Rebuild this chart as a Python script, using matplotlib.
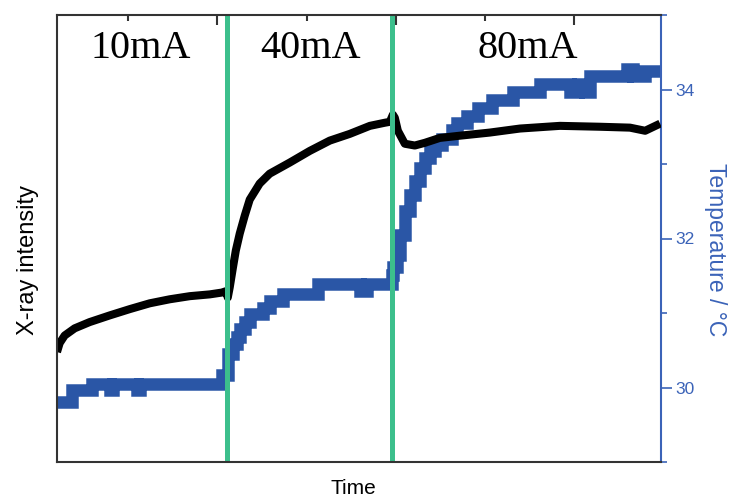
import matplotlib
matplotlib.use("Agg")
import matplotlib.pyplot as plt
from matplotlib.ticker import MultipleLocator

plt.rcParams['font.family'] = ['Liberation Sans', 'DejaVu Sans']

# --- data (time in arbitrary units) ---
t_xray = [10, 11.5, 14.3, 19.9, 28.3, 39.6, 50.8, 62.0, 73.2, 84.5, 95.7, 102.4, 104.7,
          105.8, 106.9, 108.6, 110.3, 112.5, 115.3, 118.1, 123.7, 129.3, 140.6, 151.8,
          163.0, 174.2, 185.5, 193.9, 196.7, 198.4, 199.5, 201.2, 205.1, 210.7, 216.3,
          224.7, 236.0, 252.8, 269.7, 292.1, 314.6, 331.4, 339.9, 348.3]
xray = [24.6, 26.6, 28.3, 29.9, 31.3, 32.8, 34.2, 35.5, 36.4, 37.1, 37.5, 37.9, 38.2,
        36.8, 39.1, 43.3, 47.3, 51.1, 55.1, 58.7, 62.3, 64.5, 67.0, 69.6,
        71.9, 73.4, 75.2, 75.9, 76.1, 77.7, 77.0, 74.1, 71.2, 70.8, 71.4,
        72.5, 73.0, 73.7, 74.6, 75.2, 75.0, 74.8, 74.1, 75.7]

t_temp = [10, 18.2, 29.5, 39.6, 41.3, 54.7, 56.4, 102.4, 105.8,
          108.6, 110.8, 112.5, 115.3, 118.1, 125.4, 129.3, 136.6, 156.3, 179.9, 183.8,
          197.7, 198.6, 200.6, 202.3, 205.1, 207.9, 210.7, 213.5, 216.3, 219.1, 221.9,
          225.8, 231.5, 234.3, 239.9, 246.1, 253.9, 265.7, 280.9, 297.7, 302.2, 306.2,
          309.0, 329.7, 333.1, 339.9, 348.8]
temp = [29.81, 29.97, 30.05, 29.97, 30.05, 29.97, 30.05, 30.17, 30.45,
        30.58, 30.68, 30.78, 30.88, 30.98, 31.07, 31.16, 31.26, 31.39, 31.30, 31.39,
        31.51, 31.62, 31.78, 32.05, 32.37, 32.58, 32.77, 32.94, 33.08, 33.17, 33.25,
        33.34, 33.45, 33.55, 33.65, 33.75, 33.86, 33.97, 34.07, 33.97, 34.07, 33.97,
        34.18, 34.28, 34.18, 34.25, 34.25]

switch_times = [105.5, 197.7]
currents = ["10mA", "40mA", "80mA"]
current_xpos = [0.139, 0.419, 0.78]

blue = "#2a56a6"
axis_blue = "#3b63b8"
green = "#3cbf8c"

fig = plt.figure(figsize=(7.31, 4.97), dpi=100)
ax = fig.add_axes([57/731, 35/497, 604/731, 447/497])
ax2 = ax.twinx()

# temperature (right axis), drawn underneath
ax2.plot(t_temp, temp, drawstyle="steps-post", color=blue, lw=9,
         solid_joinstyle="miter", solid_capstyle="butt")
ax2.set_ylim(29, 35)
ax2.yaxis.set_major_locator(MultipleLocator(2))
ax2.yaxis.set_minor_locator(MultipleLocator(1))
ax2.tick_params(axis="y", which="major", direction="out", length=8, width=1.2,
                colors=axis_blue, labelsize=12.5, pad=2)
ax2.tick_params(axis="y", which="minor", direction="out", length=4, width=1.2,
                colors=axis_blue)
for s in ["left", "top", "bottom"]:
    ax2.spines[s].set_visible(False)
ax2.spines["right"].set_color(axis_blue)
ax2.spines["right"].set_linewidth(1.5)

# x-ray intensity (left axis) + switching lines on top
ax.set_zorder(ax2.get_zorder() + 1)
ax.patch.set_visible(False)
ax.plot(t_xray, xray, color="black", lw=5.8, solid_capstyle="butt")
for ts in switch_times:
    ax.axvline(ts, color=green, lw=3.6)
ax.set_xlim(10, 348.8)
ax.set_ylim(0, 100)
ax.set_yticks([])
ax.xaxis.set_major_locator(MultipleLocator(100))
ax.xaxis.set_minor_locator(MultipleLocator(50))
ax.xaxis.set_ticks_position("top")
ax.tick_params(axis="x", which="major", direction="in", length=7, width=1.5,
               labeltop=False, labelbottom=False, color="#333333")
ax.tick_params(axis="x", which="minor", direction="in", length=4, width=1.5,
               color="#333333")
for s in ["left", "top", "bottom"]:
    ax.spines[s].set_color("#333333")
    ax.spines[s].set_linewidth(1.5)
ax.spines["right"].set_visible(False)

for lab, xp in zip(currents, current_xpos):
    ax.text(xp, 0.925, lab, transform=ax.transAxes, ha="center", va="center",
            fontsize=29, family="Liberation Serif")

fig.text(353/731, 1 - 489/497, "Time", ha="center", va="center", fontsize=15)
fig.text(28/731, 1 - 260/497, "X-ray intensity", ha="center", va="center",
         rotation=90, fontsize=17)
fig.text(716/731, 1 - 250/497, "Temperature / °C", ha="center", va="center",
         rotation=270, fontsize=16.5, color=axis_blue)

fig.savefig("out.png", dpi=100)
